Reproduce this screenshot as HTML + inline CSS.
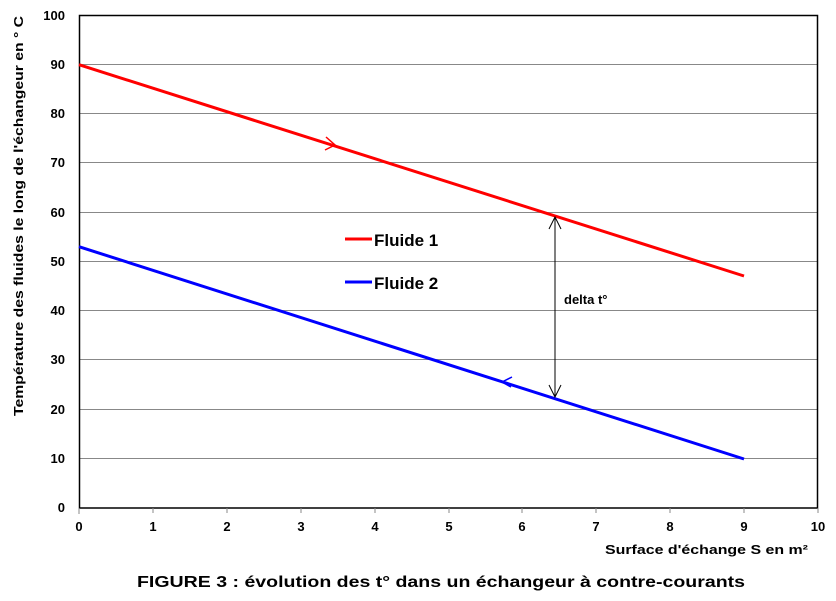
<!DOCTYPE html>
<html><head><style>body{margin:0;background:#fff}</style></head><body>
<svg width="836" height="596" xmlns="http://www.w3.org/2000/svg" font-family="Liberation Sans, sans-serif" font-weight="bold">
<g stroke="#888" stroke-width="1">
<line x1="79" x2="818" y1="64.5" y2="64.5"/><line x1="79" x2="818" y1="113.5" y2="113.5"/>
<line x1="79" x2="818" y1="162.5" y2="162.5"/><line x1="79" x2="818" y1="212.5" y2="212.5"/>
<line x1="79" x2="818" y1="261.5" y2="261.5"/><line x1="79" x2="818" y1="310.5" y2="310.5"/>
<line x1="79" x2="818" y1="359.5" y2="359.5"/><line x1="79" x2="818" y1="409.5" y2="409.5"/>
<line x1="79" x2="818" y1="458.5" y2="458.5"/>
</g>
<rect x="79.5" y="15.5" width="738" height="492.5" fill="none" stroke="#000" stroke-width="1.5"/>
<g stroke="#888"><line x1="79" x2="79" y1="508" y2="514"/><line x1="153" x2="153" y1="508" y2="513"/><line x1="227" x2="227" y1="508" y2="513"/><line x1="301" x2="301" y1="508" y2="513"/><line x1="375" x2="375" y1="508" y2="513"/><line x1="449" x2="449" y1="508" y2="513"/><line x1="522" x2="522" y1="508" y2="513"/><line x1="596" x2="596" y1="508" y2="513"/><line x1="670" x2="670" y1="508" y2="513"/><line x1="744" x2="744" y1="508" y2="513"/><line x1="818" x2="818" y1="508" y2="513"/></g>
<g font-size="13" text-anchor="end">
<text x="65" y="20">100</text><text x="65" y="69">90</text><text x="65" y="118">80</text><text x="65" y="167">70</text><text x="65" y="217">60</text><text x="65" y="266">50</text><text x="65" y="315">40</text><text x="65" y="364">30</text><text x="65" y="414">20</text><text x="65" y="463">10</text><text x="65" y="512">0</text>
</g>
<g font-size="13" text-anchor="middle">
<text x="79" y="531">0</text><text x="153" y="531">1</text><text x="227" y="531">2</text><text x="301" y="531">3</text><text x="375" y="531">4</text><text x="449" y="531">5</text><text x="522" y="531">6</text><text x="596" y="531">7</text><text x="670" y="531">8</text><text x="744" y="531">9</text><text x="818" y="531">10</text>
</g>
<text x="808" y="554" font-size="13" text-anchor="end" textLength="203" lengthAdjust="spacingAndGlyphs">Surface d'échange S en m²</text>
<text transform="translate(23,216) rotate(-90)" font-size="13" text-anchor="middle" textLength="400" lengthAdjust="spacingAndGlyphs">Température des fluides le long de l'échangeur en ° C</text>
<text x="441" y="587" font-size="16" text-anchor="middle" textLength="608" lengthAdjust="spacingAndGlyphs">FIGURE 3 : évolution des t° dans un échangeur à contre-courants</text>
<line x1="79" y1="64.7" x2="744" y2="276" stroke="#f00" stroke-width="3"/>
<line x1="79" y1="246.7" x2="744" y2="459" stroke="#00f" stroke-width="3"/>
<polyline points="326,137 335,145 325,150" fill="none" stroke="#f00" stroke-width="1.5"/>
<polyline points="512,377 502,382 511,387" fill="none" stroke="#00f" stroke-width="1.5"/>
<line x1="555" y1="218" x2="555" y2="396" stroke="#000" stroke-width="1"/>
<polyline points="549,229 555,217 561,229" fill="none" stroke="#000"/>
<polyline points="549,385 555,397 561,385" fill="none" stroke="#000"/>
<line x1="345" y1="239" x2="372" y2="239" stroke="#f00" stroke-width="3"/>
<line x1="345" y1="282" x2="372" y2="282" stroke="#00f" stroke-width="3"/>
<text x="374" y="246" font-size="17">Fluide 1</text>
<text x="374" y="289" font-size="17">Fluide 2</text>
<text x="564" y="304" font-size="13">delta t°</text>
</svg>
</body></html>
